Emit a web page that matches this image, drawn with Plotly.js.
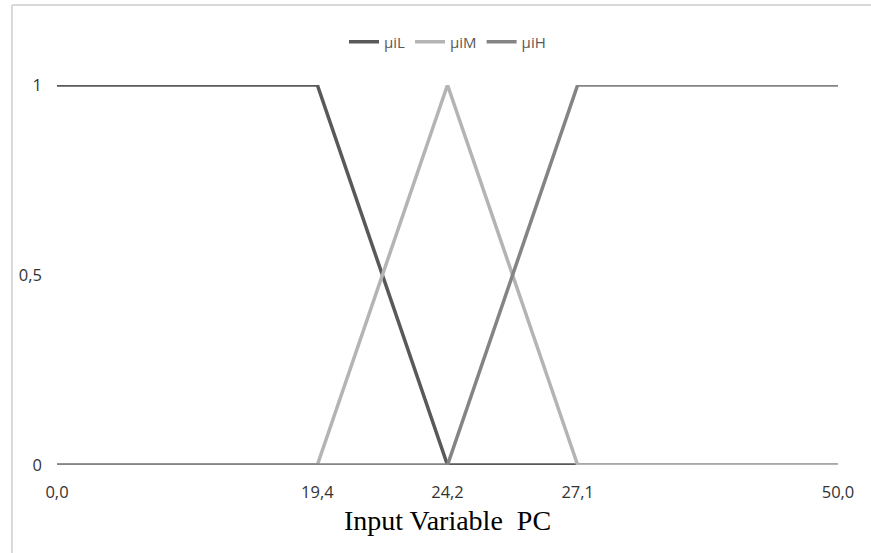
<!DOCTYPE html>
<html>
<head>
<meta charset="utf-8">
<script src="https://cdn.plot.ly/plotly-3.0.1.min.js"></script>
<style>html,body{margin:0;padding:0;background:#fff;}#chart{width:871px;height:553px;}</style>
</head>
<body>
<div id="chart"></div>
<script>
var categories = ['0,0', ' ', '19,4', '24,2', '27,1', '  ', '50,0'];
var muiL = [1, 1, 1, 0, 0, 0, 0];
var muiM = [0, 0, 0, 1, 0, 0, 0];
var muiH = [0, 0, 0, 0, 1, 1, 1];
var yTickVals = [0, 0.5, 1];
var yTickText = ['0', '0,5', '1'];

function tr(name, y, color) {
  return {
    type: 'scatter', mode: 'lines', name: name,
    x: categories, y: y, cliponaxis: false,
    line: {color: color, width: 3.5}
  };
}
var data = [
  tr('µiL', muiL, '#595959'),
  tr('µiM', muiM, '#b4b4b4'),
  tr('µiH', muiH, '#848484')
];
var layout = {
  width: 871, height: 553,
  margin: {l: 57, r: 33, t: 85, b: 88},
  paper_bgcolor: '#fff', plot_bgcolor: '#fff',
  font: {family: 'Open Sans, sans-serif', color: '#595959'},
  showlegend: true,
  legend: {orientation: 'h', x: 0.5, xanchor: 'center', y: 1.113, yanchor: 'middle',
           font: {size: 15, color: '#595959'}, itemwidth: 30, tracegroupgap: 0},
  xaxis: {
    type: 'category', range: [0, 6], showgrid: false, zeroline: false, showline: false,
    ticks: 'outside', ticklen: 12, tickcolor: 'rgba(0,0,0,0)', tickfont: {size: 16.5, color: '#333'},
    title: {text: 'Input Variable\u00a0\u00a0PC', font: {family: 'Liberation Serif, Times New Roman, serif', size: 28, color: '#000'}, standoff: 8}
  },
  yaxis: {
    range: [0, 1], showgrid: false, zeroline: false, showline: false,
    tickvals: yTickVals, ticktext: yTickText, ticks: '',
    tickfont: {size: 16.5, color: '#333'}, ticklabelstandoff: 14
  },
  shapes: [
    {type: 'line', xref: 'paper', yref: 'paper', x0: -0.0577, x1: 1.05, y0: 1.0 + 80/380, y1: 1.0 + 80/380, line: {color: '#d9d9d9', width: 2}},
    {type: 'line', xref: 'paper', yref: 'paper', x0: -0.0577, x1: -0.0577, y0: 1.0 + 80/380, y1: -0.3, line: {color: '#d9d9d9', width: 2}}
  ]
};
Plotly.newPlot('chart', data, layout, {displayModeBar: false, staticPlot: true});
</script>
</body>
</html>
